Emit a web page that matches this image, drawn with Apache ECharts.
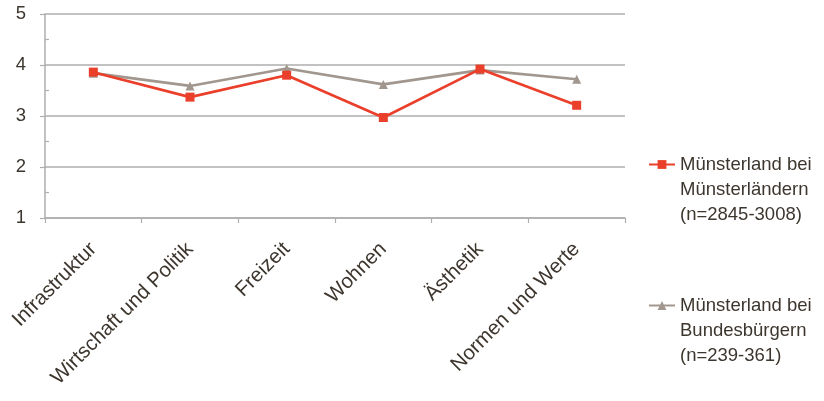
<!DOCTYPE html>
<html>
<head>
<meta charset="utf-8">
<script src="https://cdn.jsdelivr.net/npm/echarts@6/dist/echarts.min.js"></script>
<style>
  html, body { margin: 0; padding: 0; background: #fff; }
  #chart { width: 824px; height: 401px; }
</style>
</head>
<body>
<div id="chart"></div>
<script>
// Image dimensions (categories)
const categories = ['Infrastruktur', 'Wirtschaft und Politik', 'Freizeit', 'Wohnen', 'Ästhetik', 'Normen und Werte'];
// Mean ratings per dimension
const muensterlaender = [3.86, 3.37, 3.80, 2.97, 3.92, 3.21];
const bundesbuerger = [3.84, 3.59, 3.93, 3.62, 3.90, 3.72];
const seriesNames = [
  'Münsterland bei\nMünsterländern\n(n=2845-3008)',
  'Münsterland bei\nBundesbürgern\n(n=239-361)'
];
const yTicks = [1, 2, 3, 4, 5];

const RED = '#ea3f2a';
const GREY = '#a1978e';
const TEXT = '#3d362e';
const AXIS = '#aeaeae';
const FONT = '"Liberation Sans", Arial, Helvetica, sans-serif';

const chart = echarts.init(document.getElementById('chart'), null, { renderer: 'canvas' });

// icon sits next to the first line of each multi-line entry
const legendText = { fontFamily: FONT, fontSize: 18.5, color: TEXT, lineHeight: 25 };
const legendFormatter = name => '\n\n' + name;

chart.setOption({
  animation: false,
  grid: { left: 45, right: 199, top: 14, bottom: 183, containLabel: false },
  legend: [
    {
      data: [seriesNames[0]], orient: 'vertical', left: 643, top: 97,
      itemWidth: 26, itemHeight: 11, itemGap: 0,
      formatter: legendFormatter, textStyle: legendText
    },
    {
      data: [seriesNames[1]], orient: 'vertical', left: 643, top: 238,
      itemWidth: 26, itemHeight: 11, itemGap: 0,
      formatter: legendFormatter, textStyle: legendText
    }
  ],
  xAxis: {
    type: 'category',
    data: categories,
    boundaryGap: true,
    axisLine: { show: true, lineStyle: { color: AXIS, width: 1.5 } },
    axisTick: { show: true, length: 5, lineStyle: { color: AXIS, width: 1.2 } },
    axisLabel: {
      rotate: 45, margin: 28, interval: 0,
      fontFamily: FONT, fontSize: 20.5, color: TEXT
    }
  },
  yAxis: [
    {
      type: 'value',
      min: yTicks[0], max: yTicks[yTicks.length - 1], interval: 1,
      axisLine: { show: true, lineStyle: { color: AXIS, width: 1.5 } },
      axisTick: { show: true, inside: false, length: 5, lineStyle: { color: AXIS, width: 1.2 } },
      splitLine: { show: true, lineStyle: { color: AXIS, width: 1.5 } },
      axisLabel: { margin: 19, fontFamily: FONT, fontSize: 18.5, color: TEXT }
    },
    {
      // half-step ticks drawn on the inner side of the value axis
      type: 'value', position: 'left',
      min: yTicks[0], max: yTicks[yTicks.length - 1], interval: 1,
      axisLine: { show: false },
      axisTick: { show: false, inside: true },
      minorTick: { show: true, splitNumber: 2, length: 4, lineStyle: { color: AXIS, width: 1.2 } },
      splitLine: { show: false },
      axisLabel: { show: false }
    }
  ],
  series: [
    {
      name: seriesNames[0], type: 'line', data: muensterlaender, z: 3,
      symbol: 'rect', symbolSize: 9,
      lineStyle: { color: RED, width: 2.6 },
      itemStyle: { color: RED }
    },
    {
      name: seriesNames[1], type: 'line', data: bundesbuerger, z: 2,
      symbol: 'triangle', symbolSize: 9,
      lineStyle: { color: GREY, width: 2.6 },
      itemStyle: { color: GREY }
    }
  ]
});
</script>
</body>
</html>
